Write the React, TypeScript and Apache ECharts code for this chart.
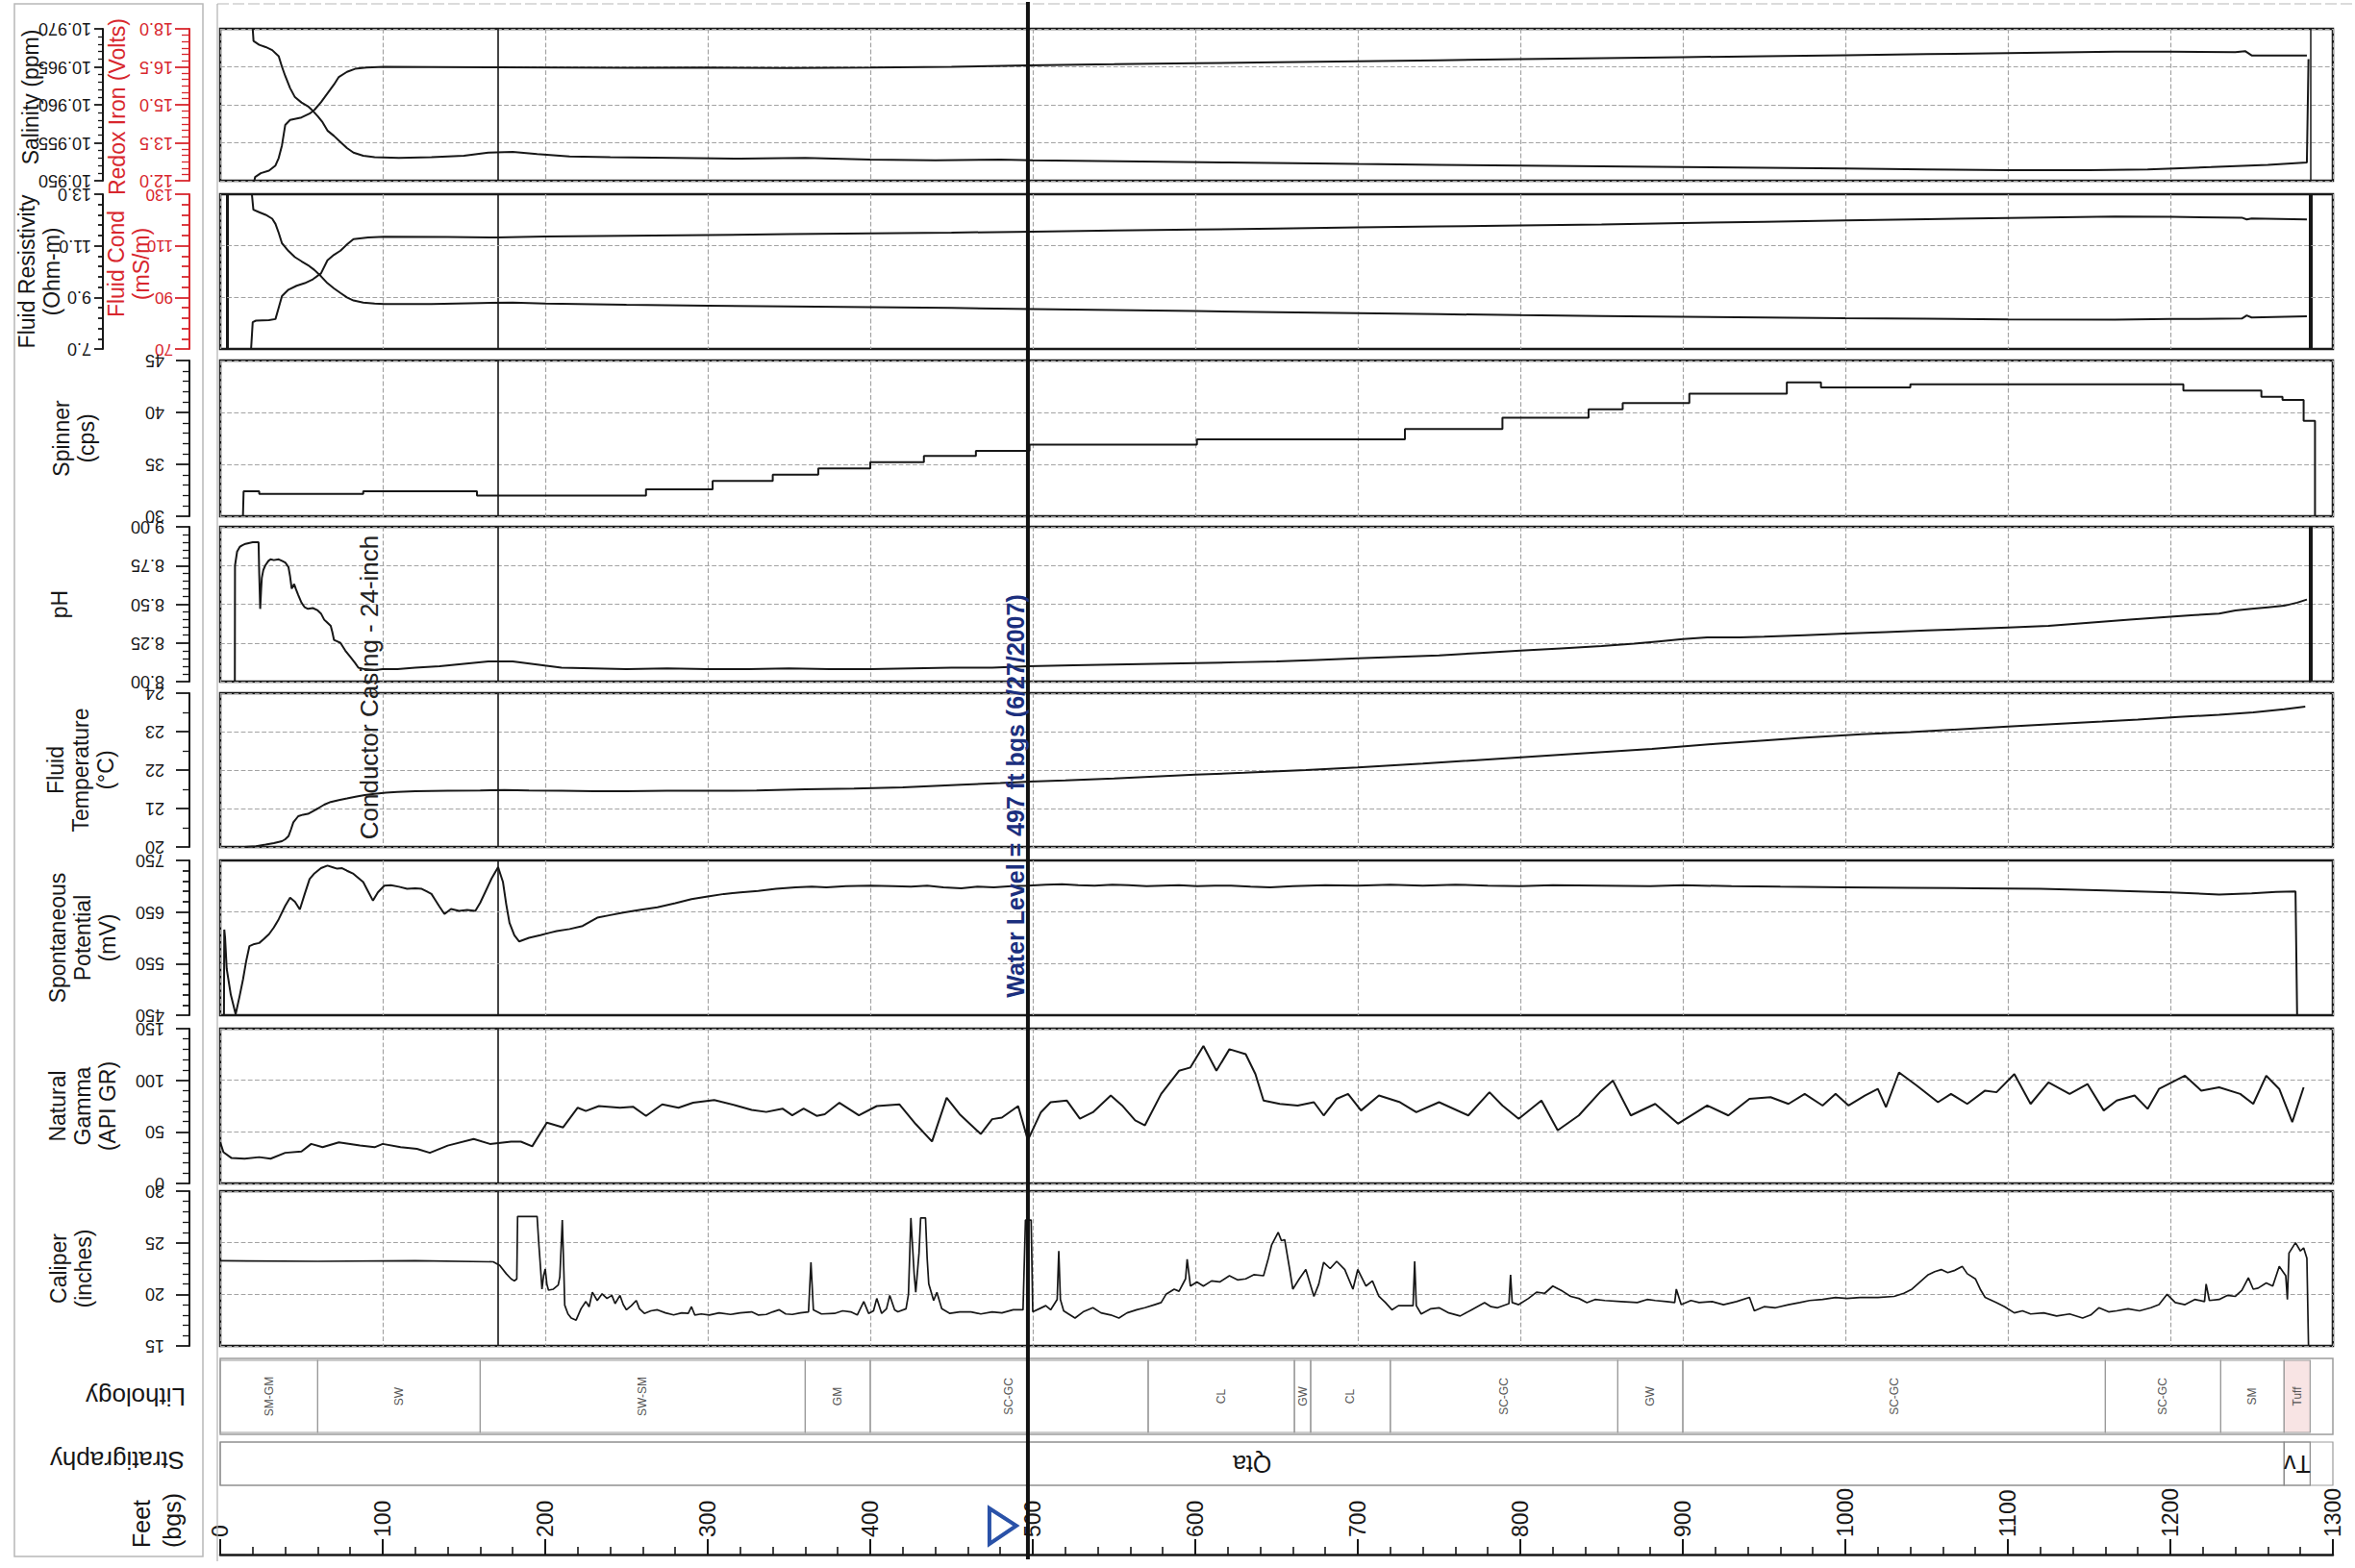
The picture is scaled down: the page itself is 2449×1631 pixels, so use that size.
import React, { useEffect, useRef } from 'react';
import * as echarts from 'echarts';

const FONT = '"Liberation Sans", Arial, Helvetica, sans-serif';
const INK = '#171717';
const RED = '#d8262d';
const GRIDC = '#a3a3a3';
const BLUE_TEXT = '#1b2f7e';
const BLUE_MARK = '#2a52a8';

// ---------- depth axis ----------
const DEPTH_MIN = 0;
const DEPTH_MAX = 1300;
const DEPTH_STEP = 100;
const CONDUCTOR_CASING_FT = 171;
const CONDUCTOR_LABEL_FT = 100;
const WATER_LEVEL_FT = 497;
const LOG_END_FT = 1286;
const LOG_START_FT = 4.5;

// ---------- tick values for axes whose min is not a multiple of the step ----------
const fluidResMajor = [7, 9, 11, 13];
const fluidResMinor = [7.4, 7.8, 8.2, 8.6, 9.4, 9.8, 10.2, 10.6, 11.4, 11.8, 12.2, 12.6];
const fluidCondMajor = [70, 90, 110, 130];
const fluidCondMinor = [74, 78, 82, 86, 94, 98, 102, 106, 114, 118, 122, 126];
const spMajor = [450, 550, 650, 750];
const spMinor = [470, 490, 510, 530, 570, 590, 610, 630, 670, 690, 710, 730];

// ---------- curves: [depth ft, value] ----------
const salinity: number[][] = [
  [20, 10.97], [20.5, 10.9684], [24, 10.9679], [28, 10.9676], [32, 10.9672], [36, 10.9664], [38, 10.965], [40, 10.9638],
  [43, 10.9622], [46, 10.961], [50, 10.9603], [54, 10.9598], [57, 10.9592], [60, 10.9585], [63, 10.9577], [66, 10.9566],
  [70, 10.9559], [74, 10.9551], [78, 10.9543], [82, 10.9537], [88, 10.9533], [95, 10.9531], [110, 10.953], [130, 10.9531],
  [150, 10.9533], [165, 10.9537], [180, 10.9538], [195, 10.9535], [215, 10.9532], [240, 10.9531], [280, 10.953],
  [320, 10.9529], [360, 10.953], [400, 10.9528], [440, 10.9527], [480, 10.9528], [500, 10.9527], [540, 10.9526],
  [580, 10.9525], [620, 10.9524], [660, 10.9523], [700, 10.9522], [750, 10.9521], [800, 10.952], [850, 10.9519],
  [900, 10.9518], [950, 10.9517], [1000, 10.9516], [1050, 10.9515], [1100, 10.9514], [1150, 10.9514], [1186, 10.9515],
  [1225, 10.9518], [1260, 10.9521], [1284, 10.9524], [1285, 10.966],
];
const redoxIron: number[][] = [
  [21, 12.0], [21.5, 12.15], [25, 12.3], [30, 12.4], [34, 12.6], [36, 12.9], [38, 13.4], [40, 14.2], [43, 14.4],
  [50, 14.5], [55, 14.65], [58, 14.8], [62, 15.1], [66, 15.45], [70, 15.8], [73, 16.1], [78, 16.3], [83, 16.42],
  [90, 16.47], [101, 16.5], [130, 16.49], [170, 16.48], [210, 16.47], [250, 16.46], [300, 16.47], [350, 16.45],
  [400, 16.47], [450, 16.5], [497, 16.56], [550, 16.6], [600, 16.64], [650, 16.68], [700, 16.72], [750, 16.76],
  [800, 16.8], [850, 16.84], [900, 16.88], [950, 16.92], [1000, 16.96], [1050, 17.0], [1100, 17.04], [1166, 17.1],
  [1200, 17.1], [1240, 17.08], [1246, 17.12], [1250, 16.95], [1284, 16.95],
];
const fluidResistivity: number[][] = [
  [19.5, 13.0], [20.4, 12.4], [24, 12.3], [28, 12.2], [32, 12.05], [34, 11.85], [36, 11.5], [38, 11.1], [42, 10.8],
  [46, 10.56], [50, 10.4], [54, 10.25], [58, 10.06], [62, 9.82], [66, 9.55], [70, 9.35], [74, 9.17], [78, 9.0],
  [82, 8.88], [88, 8.8], [95, 8.76], [101, 8.74], [130, 8.74], [160, 8.78], [180, 8.8], [200, 8.76], [250, 8.71],
  [300, 8.68], [350, 8.65], [400, 8.62], [450, 8.59], [500, 8.55], [550, 8.51], [600, 8.47], [650, 8.43], [700, 8.39],
  [750, 8.35], [800, 8.31], [850, 8.28], [900, 8.25], [950, 8.22], [1000, 8.19], [1050, 8.17], [1100, 8.15], [1166, 8.14],
  [1200, 8.16], [1244, 8.18], [1247, 8.3], [1250, 8.22], [1284, 8.27],
];
const fluidCond: number[][] = [
  [19, 70], [20, 80.4], [22, 81], [30, 81.2], [34, 81.6], [36, 86], [38, 90.5], [42, 93], [47, 94.5], [52, 95.5],
  [57, 97], [62, 99.3], [66, 104.4], [70, 106.5], [74, 108.1], [78, 110.5], [82, 112.6], [91, 113.2], [101, 113.5],
  [140, 113.4], [170, 113.2], [200, 113.6], [250, 113.9], [300, 114.2], [350, 114.5], [400, 114.8], [450, 115.1],
  [500, 115.5], [550, 115.9], [600, 116.3], [650, 116.7], [700, 117.1], [750, 117.5], [800, 117.9], [850, 118.3],
  [900, 118.8], [950, 119.3], [1000, 119.8], [1050, 120.3], [1100, 120.8], [1166, 121.3], [1200, 121.2], [1244, 120.9],
  [1247, 120.2], [1250, 120.6], [1284, 120.2],
];
const spinner: number[][] = [
  [14, 30], [14.4, 32.4], [24, 32.15], [88, 32.4], [158, 32.0], [262, 32.6], [303, 33.4], [340, 34.0], [368, 34.6],
  [400, 35.2], [433, 35.8], [465, 36.3], [498, 36.9], [601, 37.4], [729, 38.4], [789, 39.5], [842, 40.3], [863, 40.9],
  [904, 41.8], [964, 42.9], [985, 42.4], [1040, 42.7], [1208, 42.1], [1256, 41.5], [1269, 41.2], [1282, 39.2], [1289, 30],
];
const pH: number[][] = [
  [9, 8.0], [9.1, 8.75], [10.4, 8.84], [12, 8.87], [13.4, 8.88], [15.5, 8.89], [17.5, 8.895], [20, 8.9], [23.6, 8.9],
  [24, 8.7], [24.6, 8.47], [25.2, 8.6], [25.6, 8.67], [26.5, 8.72], [27.7, 8.75], [29.7, 8.78], [31, 8.79], [33, 8.785],
  [36, 8.79], [38, 8.78], [40, 8.77], [42, 8.74], [43, 8.68], [44, 8.6], [45.5, 8.63], [46.5, 8.6], [48, 8.56], [50, 8.51],
  [52, 8.48], [54, 8.47], [57, 8.475], [60, 8.46], [62, 8.44], [64, 8.4], [66, 8.38], [68, 8.36], [69, 8.32], [70, 8.27],
  [72, 8.26], [74, 8.25], [77, 8.2], [80, 8.16], [83, 8.12], [85, 8.09], [89, 8.08], [95, 8.075], [100, 8.08], [109, 8.08],
  [120, 8.09], [135, 8.1], [150, 8.115], [165, 8.13], [180, 8.13], [195, 8.11], [210, 8.09], [230, 8.085], [250, 8.08],
  [275, 8.085], [300, 8.08], [325, 8.08], [350, 8.085], [375, 8.08], [400, 8.08], [425, 8.085], [450, 8.09], [475, 8.09],
  [497, 8.1], [525, 8.105], [550, 8.11], [575, 8.115], [600, 8.12], [625, 8.125], [650, 8.13], [675, 8.14], [700, 8.15],
  [725, 8.16], [750, 8.17], [775, 8.185], [800, 8.2], [825, 8.215], [850, 8.23], [870, 8.245], [885, 8.26], [900, 8.275],
  [915, 8.285], [935, 8.285], [950, 8.29], [975, 8.3], [1000, 8.31], [1025, 8.32], [1050, 8.33], [1075, 8.34], [1100, 8.35],
  [1125, 8.36], [1150, 8.38], [1175, 8.4], [1200, 8.42], [1215, 8.43], [1230, 8.44], [1240, 8.46], [1250, 8.47],
  [1260, 8.48], [1270, 8.49], [1278, 8.51], [1284, 8.53],
];
const fluidTemp: number[][] = [
  [15, 20.0], [22, 20.02], [28, 20.06], [33, 20.1], [38, 20.15], [40, 20.2], [42, 20.28], [43.5, 20.45], [45, 20.64],
  [48, 20.8], [51, 20.84], [54, 20.86], [57, 20.93], [60, 21.0], [64, 21.1], [68, 21.17], [73, 21.22], [78, 21.26],
  [84, 21.31], [89, 21.35], [95, 21.38], [102, 21.41], [109, 21.43], [120, 21.45], [140, 21.46], [160, 21.47],
  [175, 21.48], [190, 21.47], [210, 21.46], [230, 21.45], [250, 21.45], [275, 21.46], [300, 21.46], [330, 21.47],
  [360, 21.5], [390, 21.52], [420, 21.55], [456, 21.62], [480, 21.66], [498, 21.7], [520, 21.73], [550, 21.78],
  [575, 21.83], [600, 21.88], [630, 21.93], [668, 22.0], [700, 22.07], [740, 22.17], [789, 22.3], [830, 22.41],
  [881, 22.55], [920, 22.68], [950, 22.77], [973, 22.84], [1010, 22.93], [1040, 22.99], [1066, 23.05], [1100, 23.13],
  [1130, 23.2], [1158, 23.26], [1180, 23.31], [1205, 23.38], [1230, 23.44], [1251, 23.5], [1270, 23.58], [1283, 23.65],
];
const spontaneousPotential: number[][] = [
  [2.3, 450], [2.5, 616], [3, 600], [4, 540], [6.5, 490], [9.5, 452], [12, 488], [14, 519], [16, 555], [18, 584],
  [21, 588], [24, 590], [27, 598], [30, 607], [33, 620], [36, 636], [40, 662], [43, 678], [46, 670], [49, 655],
  [52, 685], [55, 714], [58, 725], [62, 735], [66, 740], [69, 737], [72, 734], [75, 735], [78, 730], [82, 724],
  [85, 716], [88, 708], [91, 690], [94, 672], [97, 688], [101, 701], [105, 702], [110, 699], [115, 695], [120, 696],
  [124, 695], [127, 690], [130, 685], [132, 675], [135, 660], [138, 646], [142, 656], [147, 652], [152, 654],
  [157, 652], [160, 668], [163, 688], [167, 715], [171, 737], [174, 708], [176, 665], [178, 629], [181, 605],
  [184, 593], [190, 600], [197, 605], [203, 610], [207, 613], [215, 617], [223, 623], [228, 632], [232, 639],
  [240, 644], [248, 649], [258, 654], [269, 659], [280, 667], [290, 675], [300, 680], [310, 685], [320, 688],
  [331, 691], [342, 695], [354, 698], [364, 699], [373, 698], [385, 700], [400, 701], [414, 700], [425, 699],
  [435, 701], [445, 698], [456, 696], [466, 699], [476, 698], [487, 700], [497, 701], [508, 703], [518, 704],
  [528, 702], [538, 701], [549, 703], [559, 702], [570, 700], [580, 701], [590, 702], [601, 700], [612, 701],
  [622, 701], [634, 699], [646, 698], [660, 700], [680, 702], [700, 701], [720, 703], [740, 701], [760, 703],
  [780, 701], [800, 700], [820, 702], [850, 701], [880, 700], [900, 702], [930, 700], [960, 699], [1000, 698],
  [1040, 697], [1080, 696], [1120, 695], [1160, 692], [1200, 688], [1230, 684], [1250, 686], [1265, 689],
  [1277, 690], [1278, 450],
];
const naturalGamma: number[][] = [
  [0, 40], [2, 30.3], [7, 24.6], [15, 24], [24, 25.5], [31, 24], [40, 29.7], [50, 31], [56, 38.3], [63, 35.1],
  [73, 39.9], [86, 36.7], [95, 35.1], [100, 38.3], [111, 35.1], [121, 33.6], [129, 29.7], [140, 36.7], [156, 43.1],
  [166, 38.3], [179, 40.5], [185, 40.5], [192, 36], [201, 59], [211, 54.3], [220, 73.4], [225, 70.2], [233, 75],
  [246, 73.4], [254, 74.4], [262, 65.5], [272, 76.6], [282, 73.4], [291, 78.2], [304, 80.8], [317, 75.7], [327, 71.2],
  [336, 69.3], [346, 72.5], [352, 66.1], [359, 72.5], [367, 65.5], [372, 67.1], [381, 78.2], [393, 66.1], [404, 75],
  [418, 76.6], [428, 57.5], [438, 40.6], [447, 83], [455, 67.1], [468, 47.9], [475, 62.3], [481, 63.8], [491, 75],
  [497, 42], [505, 69], [511, 78.7], [521, 80.3], [529, 62.7], [537, 69], [548, 85.2], [555, 75.5], [563, 61.1],
  [569, 56.3], [579, 86.8], [590, 109.2], [597, 112.4], [605, 133.3], [613, 109.2], [621, 130.1], [631, 125.3],
  [637, 106], [642, 80.3], [652, 77.1], [663, 75.5], [673, 78.7], [679, 65.9], [687, 82], [694, 86.8], [702, 70.7],
  [713, 85.2], [726, 78.7], [736, 69], [750, 78.7], [768, 65.9], [781, 88.4], [789, 75.5], [799, 62.7], [813, 80.3],
  [823, 51.5], [836, 65.9], [849, 88.4], [857, 99.6], [868, 65.9], [883, 77.1], [897, 57.9], [915, 75.5], [928, 65.9],
  [941, 82], [954, 83.6], [965, 77.1], [975, 86.8], [986, 75.5], [994, 86.8], [1002, 75.5], [1012, 85.2], [1020, 91.6],
  [1025, 73.9], [1033, 107.6], [1044, 94.8], [1057, 78.7], [1065, 86.8], [1075, 77.1], [1086, 90], [1093, 88.4],
  [1104, 106], [1114, 77.1], [1125, 98], [1138, 86.8], [1149, 96.4], [1159, 70.7], [1167, 80.3], [1178, 85.2],
  [1186, 72.3], [1193, 91.6], [1209, 104.4], [1219, 90], [1230, 93.2], [1243, 86.8], [1251, 77.1], [1259, 104.4],
  [1267, 91.6], [1275, 59.5], [1282, 93.2],
];
const caliper: number[][] = [
  [0, 23.25], [60, 23.2], [120, 23.25], [168, 23.15], [172, 22.8], [176, 22.0], [179, 21.5], [181, 21.3], [182.5, 21.5],
  [183, 27.55], [195, 27.55], [196, 25], [197, 22.8], [198, 20.5], [199, 21.8], [200, 22.45], [201, 21], [202, 20.4],
  [205, 20.5], [208, 20.9], [209, 21.7], [210.5, 27.2], [211.5, 22], [212, 18.95], [214, 18.1], [216, 17.7], [219, 17.5],
  [222, 18.6], [225, 19.3], [227, 18.8], [229, 20.2], [232, 19.4], [235, 20.05], [238, 19.6], [241, 19.9], [243, 19.1],
  [246, 19.9], [248, 19.0], [250, 18.5], [253, 18.9], [256, 19.4], [258, 18.6], [261, 18.15], [265, 18.4], [269, 18.5],
  [274, 18.2], [279, 18.0], [284, 18.2], [288, 18.15], [290, 18.8], [292, 18.0], [296, 18.1], [301, 18.0], [307, 18.2],
  [314, 18.05], [320, 18.2], [327, 18.3], [331, 18.0], [336, 18.05], [340, 18.3], [344, 18.5], [348, 18.1], [352, 18.05],
  [357, 18.2], [362, 18.3], [363.5, 23.1], [365, 18.5], [370, 18.1], [378, 18.15], [383, 18.4], [388, 18.3], [392, 18.0],
  [396, 19.3], [399, 18.15], [402, 18.4], [404, 19.6], [407, 18.15], [410, 18.6], [412, 19.9], [415, 18.5], [417, 18.3],
  [422, 18.6], [423.5, 20], [425, 27.4], [427, 22], [428, 20.2], [430, 24], [431, 27.4], [434, 27.4], [435, 23.5],
  [436, 21.0], [439, 19.4], [441, 20.2], [444, 18.6], [449, 18.15], [455, 18.3], [462, 18.3], [468, 18.1], [475, 18.3],
  [481, 18.2], [488, 18.5], [494, 18.5], [495.5, 27.2], [499, 27.2], [500, 18.3], [504, 18.6], [508, 18.9], [511, 18.5],
  [515, 19.5], [516, 24.2], [517, 19.5], [519, 18.4], [522, 18.1], [526, 17.7], [531, 18.3], [537, 18.7], [542, 18.2],
  [548, 18.0], [553, 17.7], [558, 18.2], [564, 18.5], [569, 18.7], [575, 19.0], [579, 19.2], [582, 20.0], [587, 20.5],
  [590, 20.3], [594, 21.5], [595, 23.4], [597, 20.8], [601, 21.2], [605, 20.8], [610, 21.3], [615, 21.2], [621, 21.8],
  [626, 21.4], [631, 21.5], [636, 21.9], [642, 21.8], [645, 23.5], [647, 24.8], [651, 26.0], [653, 25.2], [655, 25.3],
  [658, 22.5], [660, 20.5], [664, 21.5], [668, 22.4], [673, 19.8], [676, 21.0], [679, 23.1], [683, 22.5], [687, 23.2],
  [692, 22.4], [697, 20.5], [700, 22.4], [705, 20.8], [709, 21.3], [713, 19.8], [717, 19.2], [721, 18.5], [725, 18.9],
  [729, 18.9], [734, 18.9], [735, 23.2], [736, 18.9], [739, 18.1], [745, 18.6], [750, 18.7], [756, 18.2], [763, 17.9],
  [770, 18.5], [778, 19.2], [782, 18.8], [786, 18.7], [793, 19.1], [794, 21.9], [795, 19.2], [799, 19.0], [805, 19.6],
  [810, 20.2], [815, 20.1], [820, 20.8], [826, 20.3], [831, 19.8], [836, 19.6], [841, 19.2], [846, 19.5], [852, 19.4],
  [862, 19.3], [872, 19.2], [878, 19.5], [883, 19.4], [890, 19.3], [895, 19.2], [896, 20.5], [899, 19.0], [905, 19.4],
  [910, 19.2], [918, 19.3], [925, 19.0], [933, 19.3], [941, 19.7], [944, 18.4], [950, 18.8], [957, 18.7], [965, 19.0],
  [972, 19.2], [978, 19.4], [986, 19.5], [994, 19.7], [1001, 19.6], [1009, 19.7], [1020, 19.7], [1030, 19.8],
  [1036, 20.1], [1041, 20.5], [1046, 21.2], [1051, 21.9], [1055, 22.2], [1059, 22.4], [1063, 22.1], [1067, 22.3],
  [1072, 22.7], [1075, 22.0], [1080, 21.5], [1083, 20.5], [1086, 19.7], [1093, 19.2], [1098, 18.8], [1104, 18.2],
  [1109, 18.4], [1114, 18.1], [1122, 18.2], [1130, 17.9], [1138, 18.1], [1146, 17.7], [1151, 18.0], [1156, 18.7],
  [1162, 18.3], [1167, 18.4], [1174, 18.6], [1181, 18.4], [1188, 18.7], [1193, 19.0], [1198, 20.0], [1203, 19.2],
  [1209, 19.0], [1215, 19.5], [1221, 19.3], [1222, 21.0], [1224, 19.4], [1230, 19.5], [1235, 19.9], [1240, 19.8],
  [1244, 20.4], [1248, 21.6], [1251, 20.5], [1254, 20.6], [1259, 21.1], [1263, 20.8], [1267, 22.7], [1271, 21.8],
  [1272, 19.5], [1273, 24.0], [1277, 25.0], [1280, 24.2], [1282, 24.5], [1284, 23.5], [1285, 15],
];

// ---------- lithology & stratigraphy ----------
const lithoNames = ['SM-GM', 'SW', 'SW-SM', 'GM', 'SC-GC', 'CL', 'GW', 'CL', 'SC-GC', 'GW', 'SC-GC', 'SC-GC', 'SM', 'Tuff'];
const lithoTop = [0, 60, 160, 360, 400, 571, 661, 671, 720, 860, 900, 1160, 1231, 1270];
const lithoBottom = [60, 160, 360, 400, 571, 661, 671, 720, 860, 900, 1160, 1231, 1270, 1286];
const stratNames = ['Qta', 'Tv'];
const stratTop = [0, 1270];
const stratBottom = [1270, 1286];

// ---------- layout ----------
const W = 2449;
const H = 1631;
const PLOT_LEFT = 229;
const PLOT_WIDTH = 2197;
const PANEL_TOPS = [30, 202, 375, 548, 721, 895, 1070, 1239];
const PANEL_HEIGHTS = [158, 161, 162, 161, 160, 161, 161, 161];
const LITHO_BOX = { top: 1413, height: 79 };
const STRAT_BOX = { top: 1500, height: 45 };
const DEPTH_BOX = { top: 1555, height: 62 };

function buildOption() {
  const grids: any[] = [];
  const xAxes: any[] = [];
  const yAxes: any[] = [];
  const baseGrid = { left: PLOT_LEFT, width: PLOT_WIDTH, containLabel: false, outerBoundsMode: 'none' };

  PANEL_TOPS.forEach((t, i) => {
    grids.push({ ...baseGrid, top: t, height: PANEL_HEIGHTS[i], show: true, borderColor: '#1a1a1a', borderWidth: 2.5 });
    xAxes.push({
      type: 'value', gridIndex: i, min: DEPTH_MIN, max: DEPTH_MAX, interval: DEPTH_STEP,
      axisLine: { show: false }, axisTick: { show: false }, axisLabel: { show: false },
      splitLine: { show: true, lineStyle: { color: GRIDC, type: 'dashed', width: 1.2 } },
    });
  });
  grids.push({ ...baseGrid, top: LITHO_BOX.top, height: LITHO_BOX.height, show: true, borderColor: '#9c9c9c', borderWidth: 1.5 });
  grids.push({ ...baseGrid, top: STRAT_BOX.top, height: STRAT_BOX.height, show: true, borderColor: '#9c9c9c', borderWidth: 1.2 });
  grids.push({ ...baseGrid, top: DEPTH_BOX.top, height: DEPTH_BOX.height, show: false });
  for (let g = 8; g <= 9; g++) {
    xAxes.push({
      type: 'value', gridIndex: g, min: DEPTH_MIN, max: DEPTH_MAX, show: true,
      axisLine: { show: false }, axisTick: { show: false }, axisLabel: { show: false }, splitLine: { show: false },
    });
  }
  xAxes.push({
    type: 'value', gridIndex: 10, min: DEPTH_MIN, max: DEPTH_MAX, interval: DEPTH_STEP, position: 'bottom',
    axisLine: { show: true, onZero: false, lineStyle: { color: INK, width: 2.5 } },
    axisTick: { show: true, inside: true, length: 16, lineStyle: { color: INK, width: 2 } },
    minorTick: { show: true, splitNumber: 5, length: 8, lineStyle: { color: INK, width: 1.6 } },
    axisLabel: {
      show: true, inside: true, rotate: 90, margin: 18, fontSize: 23, fontFamily: FONT, color: INK,
      showMinLabel: true, showMaxLabel: true, formatter: (v: number) => String(Math.round(v)),
    },
    splitLine: { show: false },
  });

  const Y = (o: any) => {
    yAxes.push({
      type: 'value', gridIndex: o.grid, min: o.min, max: o.max, interval: o.interval, position: 'left', offset: o.offset,
      axisLine: { show: o.line !== false, onZero: false, lineStyle: { color: o.color, width: 2 } },
      axisTick: { show: true, length: o.tick, customValues: o.major, lineStyle: { color: o.color, width: 1.8 } },
      minorTick: { show: !!o.minor, splitNumber: o.minor || 5, length: o.minorLen || 6, lineStyle: { color: o.color, width: 1.3 } },
      axisLabel: {
        show: o.label !== false, customValues: o.major, rotate: 180, margin: o.margin, fontSize: o.fontSize || 18,
        fontFamily: FONT, color: o.color, formatter: o.fmt, showMinLabel: true, showMaxLabel: true,
      },
      splitLine: { show: !!o.split, lineStyle: { color: GRIDC, type: 'dashed', width: 1.2 } },
    });
    return yAxes.length - 1;
  };
  const f = (n: number) => (v: number) => v.toFixed(n);

  const ySal = Y({ grid: 0, min: 10.95, max: 10.97, interval: 0.005, minor: 5, minorLen: 5, color: INK, offset: 122, tick: 9, margin: 12, fmt: f(3), split: true });
  const yRedox = Y({ grid: 0, min: 12, max: 18, interval: 1.5, minor: 6, minorLen: 8, color: RED, offset: 32, tick: 15, margin: 17, fmt: f(1) });
  const yRes = Y({ grid: 1, min: 7, max: 13, interval: 1, major: fluidResMajor, color: INK, offset: 122, tick: 9, margin: 12, fmt: f(1) });
  Y({ grid: 1, min: 7, max: 13, interval: 1, major: fluidResMinor, color: INK, offset: 122, tick: 5, margin: 12, line: false, label: false });
  const yCond = Y({ grid: 1, min: 70, max: 130, interval: 10, major: fluidCondMajor, color: RED, offset: 32, tick: 15, margin: 17, fmt: f(0), fontSize: 17 });
  Y({ grid: 1, min: 70, max: 130, interval: 10, major: fluidCondMinor, color: RED, offset: 32, tick: 8, margin: 17, line: false, label: false });
  const ySpin = Y({ grid: 2, min: 30, max: 45, interval: 5, minor: 5, minorLen: 7, color: INK, offset: 32, tick: 14, margin: 26, fmt: f(0), split: true });
  const yPH = Y({ grid: 3, min: 8, max: 9, interval: 0.25, minor: 5, minorLen: 7, color: INK, offset: 32, tick: 14, margin: 26, fmt: f(2), split: true });
  const yTemp = Y({ grid: 4, min: 20, max: 24, interval: 1, minor: 2, minorLen: 7, color: INK, offset: 32, tick: 14, margin: 26, fmt: f(0), split: true });
  const ySP = Y({ grid: 5, min: 450, max: 750, interval: 50, major: spMajor, color: INK, offset: 32, tick: 14, margin: 26, fmt: f(0) });
  Y({ grid: 5, min: 450, max: 750, interval: 50, major: spMinor, color: INK, offset: 32, tick: 7, margin: 26, line: false, label: false });
  const yGam = Y({ grid: 6, min: 0, max: 150, interval: 50, minor: 5, minorLen: 7, color: INK, offset: 32, tick: 14, margin: 26, fmt: f(0), split: true });
  const yCal = Y({ grid: 7, min: 15, max: 30, interval: 5, minor: 5, minorLen: 7, color: INK, offset: 32, tick: 14, margin: 26, fmt: f(0), split: true });
  const hidden = (g: number) => {
    yAxes.push({ type: 'value', gridIndex: g, min: 0, max: 1, show: false, splitLine: { show: false } });
    return yAxes.length - 1;
  };
  const yLitho = hidden(8);
  const yStrat = hidden(9);
  const yDepth = hidden(10);

  const mkV = (x: number, width: number) => ({ xAxis: x, lineStyle: { color: INK, width, type: 'solid' } });
  const mkH = (y: number) => ({ yAxis: y, lineStyle: { color: GRIDC, width: 1.2, type: 'dashed' } });
  const ml = (items: any[]) => ({ symbol: ['none', 'none'], silent: true, animation: false, label: { show: false }, data: items });
  const line = (data: number[][], xi: number, yi: number, extra: any = {}) => ({
    type: 'line', data, xAxisIndex: xi, yAxisIndex: yi, showSymbol: false, symbol: 'none',
    lineStyle: { color: INK, width: 2 }, z: 5, animation: false, silent: true, ...extra,
  });
  const casing = mkV(CONDUCTOR_CASING_FT, 1.6);

  const series: any[] = [
    line(salinity, 0, ySal, { markLine: ml([casing, mkV(LOG_END_FT, 1.5)]) }),
    line(redoxIron, 0, yRedox),
    line(fluidResistivity, 1, yRes, { markLine: ml([mkV(LOG_START_FT, 3), casing, mkV(LOG_END_FT, 4), mkH(9), mkH(11)]) }),
    line(fluidCond, 1, yCond),
    line(spinner, 2, ySpin, { step: 'end', markLine: ml([casing]) }),
    line(pH, 3, yPH, { markLine: ml([casing, mkV(LOG_END_FT, 4)]) }),
    line(fluidTemp, 4, yTemp, { markLine: ml([casing]) }),
    line(spontaneousPotential, 5, ySP, { markLine: ml([casing, mkH(550), mkH(650)]) }),
    line(naturalGamma, 6, yGam, { markLine: ml([casing]) }),
    line(caliper, 7, yCal, { lineStyle: { color: INK, width: 1.7 }, markLine: ml([casing]) }),
    {
      type: 'custom', xAxisIndex: 8, yAxisIndex: yLitho, silent: true, animation: false,
      encode: { x: [0, 1], y: 2 },
      data: lithoTop.map((t, i) => [t, lithoBottom[i], 0.5]),
      renderItem: (params: any, api: any) => {
        const p0 = api.coord([api.value(0), 1]);
        const p1 = api.coord([api.value(1), 0]);
        const name = lithoNames[params.dataIndex];
        return {
          type: 'group',
          children: [
            {
              type: 'rect',
              shape: { x: p0[0], y: p0[1] + 2, width: p1[0] - p0[0], height: p1[1] - p0[1] - 4 },
              style: { fill: name === 'Tuff' ? '#f8e4e4' : 'rgba(0,0,0,0)', stroke: '#9a9a9a', lineWidth: 1.2 },
            },
            {
              type: 'text', x: (p0[0] + p1[0]) / 2, y: (p0[1] + p1[1]) / 2, rotation: Math.PI / 2,
              style: { text: name, align: 'center', verticalAlign: 'middle', fontSize: 12, fontFamily: FONT, fill: '#555' },
            },
          ],
        };
      },
    },
    {
      type: 'custom', xAxisIndex: 9, yAxisIndex: yStrat, silent: true, animation: false,
      encode: { x: [0, 1], y: 2 },
      data: stratTop.map((t, i) => [t, stratBottom[i], 0.5]),
      renderItem: (params: any, api: any) => {
        const p0 = api.coord([api.value(0), 1]);
        const p1 = api.coord([api.value(1), 0]);
        const name = stratNames[params.dataIndex];
        return {
          type: 'group',
          children: [
            {
              type: 'rect',
              shape: { x: p0[0], y: p0[1], width: p1[0] - p0[0], height: p1[1] - p0[1] },
              style: { fill: 'rgba(0,0,0,0)', stroke: '#8a8a8a', lineWidth: 1.2 },
            },
            {
              type: 'text', x: (p0[0] + p1[0]) / 2, y: (p0[1] + p1[1]) / 2, rotation: Math.PI,
              style: { text: name, align: 'center', verticalAlign: 'middle', fontSize: 25, fontFamily: FONT, fill: INK },
            },
          ],
        };
      },
    },
    { type: 'line', data: [], xAxisIndex: 10, yAxisIndex: yDepth, silent: true },
  ];

  return {
    animation: false,
    backgroundColor: '#ffffff',
    textStyle: { fontFamily: FONT },
    grid: grids,
    xAxis: xAxes,
    yAxis: yAxes,
    series,
  };
}

const TITLE_FONT = 23;
const titles = [
  { text: 'Salinity (ppm)', x: 32, panel: 0, dy: -8, color: INK },
  { text: 'Redox Iron (Volts)', x: 122, panel: 0, dy: 2, color: RED },
  { text: 'Fluid Resistivity\n(Ohm-m)', x: 41, panel: 1, dy: 0, color: INK },
  { text: 'Fluid Cond\n(mS/m)', x: 134, panel: 1, dy: -8, color: RED },
  { text: 'Spinner\n(cps)', x: 77, panel: 2, dy: 0, color: INK },
  { text: 'pH', x: 62, panel: 3, dy: 0, color: INK },
  { text: 'Fluid\nTemperature\n(°C)', x: 84, panel: 4, dy: 0, color: INK },
  { text: 'Spontaneous\nPotential\n(mV)', x: 86, panel: 5, dy: 0, color: INK },
  { text: 'Natural\nGamma\n(API GR)', x: 86, panel: 6, dy: 0, color: INK },
  { text: 'Caliper\n(inches)', x: 74, panel: 7, dy: 0, color: INK },
];

function buildGraphics(px: (d: number) => number) {
  const els: any[] = [];
  els.push({ type: 'rect', shape: { x: 15, y: 4, width: 196, height: 1615 }, style: { fill: 'none', stroke: '#b8b8b8', lineWidth: 1.5 }, z: 1 });
  els.push({ type: 'line', shape: { x1: 226, y1: 4, x2: 226, y2: 1624 }, style: { stroke: '#b0b0b0', lineWidth: 1.2 }, z: 1 });
  els.push({ type: 'line', shape: { x1: 226, y1: 4, x2: 2446, y2: 4 }, style: { stroke: '#b8b8b8', lineWidth: 1.2, lineDash: [12, 4] }, z: 1 });

  titles.forEach((t) => {
    els.push({
      type: 'text', x: t.x, y: PANEL_TOPS[t.panel] + PANEL_HEIGHTS[t.panel] / 2 + t.dy, rotation: Math.PI / 2, z: 10,
      style: { text: t.text, fill: t.color, fontSize: TITLE_FONT, fontFamily: FONT, align: 'center', verticalAlign: 'middle', lineHeight: 26 },
    });
  });
  els.push({
    type: 'text', x: 141, y: LITHO_BOX.top + LITHO_BOX.height / 2, rotation: Math.PI, z: 10,
    style: { text: 'Lithology', fill: INK, fontSize: 26, fontFamily: FONT, align: 'center', verticalAlign: 'middle' },
  });
  els.push({
    type: 'text', x: 122, y: STRAT_BOX.top + STRAT_BOX.height / 2 - 4, rotation: Math.PI, z: 10,
    style: { text: 'Stratigraphy', fill: INK, fontSize: 26, fontFamily: FONT, align: 'center', verticalAlign: 'middle' },
  });
  els.push({
    type: 'text', x: 163, y: 1610, rotation: Math.PI / 2, z: 10,
    style: { text: 'Feet\n(bgs)', fill: INK, fontSize: 25, fontFamily: FONT, align: 'left', verticalAlign: 'middle', lineHeight: 32 },
  });

  els.push({
    type: 'text', x: px(CONDUCTOR_LABEL_FT) - 14, y: 715, rotation: Math.PI / 2, z: 20,
    style: { text: 'Conductor Casing - 24-inch', fill: '#222', fontSize: 26, fontFamily: FONT, align: 'center', verticalAlign: 'middle' },
  });

  const wx = px(WATER_LEVEL_FT);
  els.push({ type: 'line', shape: { x1: wx, y1: 2, x2: wx, y2: 1622 }, style: { stroke: '#111', lineWidth: 4 }, z: 30 });
  els.push({
    type: 'text', x: wx - 13, y: 828, rotation: Math.PI / 2, z: 31,
    style: { text: 'Water Level = 497 ft bgs (6/27/2007)', fill: BLUE_TEXT, fontSize: 25, fontWeight: 'bold', fontFamily: FONT, align: 'center', verticalAlign: 'middle' },
  });
  els.push({
    type: 'polygon', z: 31,
    shape: { points: [[wx - 40, 1569], [wx - 40, 1606], [wx - 12, 1587]] },
    style: { fill: '#ffffff', stroke: BLUE_MARK, lineWidth: 4, lineJoin: 'miter' },
  });
  return els;
}

export default function App() {
  const ref = useRef<HTMLDivElement>(null);
  useEffect(() => {
    if (!ref.current) return;
    const chart = echarts.init(ref.current, null, { renderer: 'svg' });
    chart.setOption(buildOption() as any);
    const px = (d: number) => chart.convertToPixel({ xAxisIndex: 0 } as any, d) as unknown as number;
    chart.setOption({ graphic: buildGraphics(px) } as any);
    return () => chart.dispose();
  }, []);
  return (
    <div
      ref={ref}
      style={{ position: 'absolute', left: 0, top: 0, width: W, height: H, background: '#ffffff' }}
    />
  );
}
